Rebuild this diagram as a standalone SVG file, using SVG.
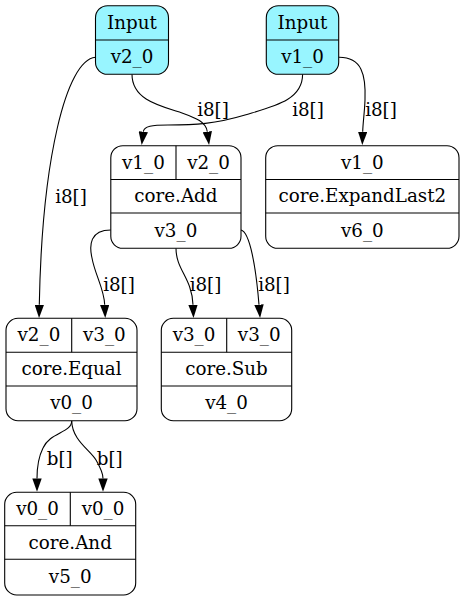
<svg xmlns="http://www.w3.org/2000/svg" width="465" height="601" viewBox="0 0 465 601">
<style>
.box{fill:#ffffff;stroke:#000;stroke-width:1.1}
.inp{fill:#98f5ff;stroke:#000;stroke-width:1.1}
.div{stroke:#000;stroke-width:1.1;fill:none}
text{font-family:"DejaVu Serif","Liberation Serif",serif;font-size:18.3px;fill:#000}
.c{text-anchor:middle}
.edge{fill:none;stroke:#000;stroke-width:1.1;marker-end:url(#arr)}
</style>
<defs>
<marker id="arr" viewBox="0 0 13.3 9.4" refX="0" refY="4.7" markerWidth="13.3" markerHeight="9.4" markerUnits="userSpaceOnUse" orient="auto">
<path d="M0,0 L13.3,4.7 L0,9.4 z" fill="#000"/>
</marker>
</defs>
<rect width="465" height="601" fill="#fff"/>

<g id="connectors">
<path class="edge" d="M95.5,57.3 C66,60 42,160 39.3,304.7"/>
<text x="71" y="203" class="c">i8[]</text>
<path class="edge" d="M132,74.3 C132,100 160,106 182,113 C196,118 206,122 207.3,131.7"/>
<text x="213" y="116" class="c">i8[]</text>
<path class="edge" d="M302.6,74.3 C302.6,100 275,106 245,115 C215,124 195,125 168,125 C152,125 144,126 143.3,131.7"/>
<text x="308" y="116" class="c">i8[]</text>
<path class="edge" d="M338.7,57.3 C362,57 366,75 365,100 C364.5,113 363,122 362.7,131.7"/>
<text x="381" y="116" class="c">i8[]</text>
<path class="edge" d="M110.8,230 C90,230 89,245 92,258 C95,275 104,288 104.7,304.7"/>
<text x="119" y="290.5" class="c">i8[]</text>
<path class="edge" d="M176,248.3 C176,270 192,278 193,304.7"/>
<text x="205.5" y="290.5" class="c">i8[]</text>
<path class="edge" d="M241,230 C250,232 256,268 259,304.7"/>
<text x="274" y="290.5" class="c">i8[]</text>
<path class="edge" d="M71.7,420.7 C71.7,433 50,432 43,448 C38,458 37,468 37,478.4"/>
<text x="59.7" y="465" class="c">b[]</text>
<path class="edge" d="M71.7,420.7 C72,440 90,450 96,460 C100,467 103,472 103,478.4"/>
<text x="109.7" y="465" class="c">b[]</text>
</g>

<g id="input_v2_0">
<rect class="inp" x="95.5" y="5.7" width="73" height="68.6" rx="12"/>
<line class="div" x1="95.5" y1="40" x2="168.5" y2="40"/>
<text x="132" y="29.2" class="c">Input</text>
<text x="132" y="63.4" class="c">v2_0</text>
</g>

<g id="input_v1_0">
<rect class="inp" x="266.3" y="5.7" width="72.4" height="68.6" rx="12"/>
<line class="div" x1="266.3" y1="40" x2="338.7" y2="40"/>
<text x="302.5" y="29.2" class="c">Input</text>
<text x="302.5" y="63.4" class="c">v1_0</text>
</g>

<g id="core_add">
<rect class="box" x="110.8" y="145.7" width="130.2" height="102.6" rx="12"/>
<line class="div" x1="110.8" y1="179.5" x2="241" y2="179.5"/>
<line class="div" x1="110.8" y1="213" x2="241" y2="213"/>
<line class="div" x1="176" y1="145.7" x2="176" y2="179.5"/>
<text x="143.4" y="168.5" class="c">v1_0</text>
<text x="208.5" y="168.5" class="c">v2_0</text>
<text x="175.9" y="202.3" class="c">core.Add</text>
<text x="175.9" y="236.7" class="c">v3_0</text>
</g>

<g id="core_expandlast2">
<rect class="box" x="265.7" y="145.7" width="193.3" height="102.6" rx="12"/>
<line class="div" x1="265.7" y1="179.5" x2="459" y2="179.5"/>
<line class="div" x1="265.7" y1="213" x2="459" y2="213"/>
<text x="362.3" y="168.5" class="c">v1_0</text>
<text x="362.3" y="202.3" class="c">core.ExpandLast2</text>
<text x="362.3" y="236.7" class="c">v6_0</text>
</g>

<g id="core_equal">
<rect class="box" x="6" y="318.3" width="131" height="102.4" rx="12"/>
<line class="div" x1="6" y1="352.3" x2="137" y2="352.3"/>
<line class="div" x1="6" y1="386" x2="137" y2="386"/>
<line class="div" x1="71.7" y1="318.3" x2="71.7" y2="352.3"/>
<text x="38.9" y="341.2" class="c">v2_0</text>
<text x="104.3" y="341.2" class="c">v3_0</text>
<text x="71.5" y="375" class="c">core.Equal</text>
<text x="71.5" y="409" class="c">v0_0</text>
</g>

<g id="core_sub">
<rect class="box" x="161.3" y="318.3" width="130.4" height="102.4" rx="12"/>
<line class="div" x1="161.3" y1="352.3" x2="291.7" y2="352.3"/>
<line class="div" x1="161.3" y1="386" x2="291.7" y2="386"/>
<line class="div" x1="226.7" y1="318.3" x2="226.7" y2="352.3"/>
<text x="194" y="341.2" class="c">v3_0</text>
<text x="259.2" y="341.2" class="c">v3_0</text>
<text x="226.5" y="375" class="c">core.Sub</text>
<text x="226.5" y="409" class="c">v4_0</text>
</g>

<g id="core_and">
<rect class="box" x="4.7" y="492.3" width="131" height="102.7" rx="12"/>
<line class="div" x1="4.7" y1="525.7" x2="135.7" y2="525.7"/>
<line class="div" x1="4.7" y1="559.3" x2="135.7" y2="559.3"/>
<line class="div" x1="70.3" y1="492.3" x2="70.3" y2="525.7"/>
<text x="37.5" y="515" class="c">v0_0</text>
<text x="103" y="515" class="c">v0_0</text>
<text x="70.2" y="548.7" class="c">core.And</text>
<text x="70.2" y="583" class="c">v5_0</text>
</g>
</svg>
